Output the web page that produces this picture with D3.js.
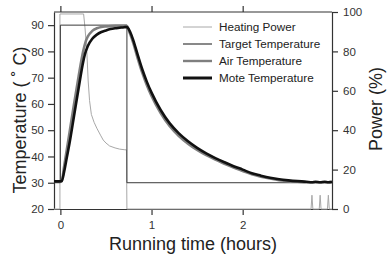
<!DOCTYPE html>
<html>
<head>
<meta charset="utf-8">
<script src="https://cdn.jsdelivr.net/npm/d3@7"></script>
<style>
  body { margin: 0; background: #fff; }
  svg { display: block; font-family: "Liberation Sans", Arial, sans-serif; }
</style>
</head>
<body>
<svg id="chart" width="390" height="261"></svg>
<script>
// values: [hours, value]
const targetTemp = [[-0.07, 30], [0, 30], [0, 90], [0.73, 90], [0.73, 30], [2.98, 30]];

const heatingPower = [[-0.07, 0], [-0.005, 0], [-0.005, 99], [0.255, 99], [0.27, 92], [0.29, 80],
  [0.305, 65], [0.32, 55], [0.34, 48], [0.37, 44], [0.4, 41], [0.44, 37.5], [0.47, 35],
  [0.5, 33.5], [0.54, 32], [0.6, 31], [0.65, 30.4], [0.7, 30.1], [0.725, 30], [0.73, 0],
  [2.75, 0], [2.76, 7], [2.77, 0], [2.84, 0], [2.85, 7], [2.86, 0], [2.93, 0], [2.94, 7],
  [2.95, 0], [2.98, 0]];

const airTemp = [[-0.07, 30.5], [0.015, 30.6], [0.04, 36], [0.07, 42.5], [0.1, 49], [0.15, 60],
  [0.2, 70.5], [0.25, 80], [0.28, 84], [0.3, 85.6], [0.35, 87.8], [0.4, 88.8], [0.45, 89.3],
  [0.5, 89.5], [0.6, 89.7], [0.73, 89.7], [0.75, 88], [0.78, 85.3], [0.8, 83.2], [0.85, 77.2],
  [0.9, 71.7], [0.95, 67], [1.0, 63], [1.1, 56.5], [1.2, 51.5], [1.3, 47.8], [1.4, 44.9],
  [1.5, 42.5], [1.6, 40.5], [1.7, 38.8], [1.8, 37.2], [1.9, 35.8], [2.0, 34.5], [2.1, 33.2],
  [2.2, 32.3], [2.3, 31.6], [2.4, 31.0], [2.5, 30.6], [2.6, 30.4], [2.7, 30.2], [2.98, 30.2]];

const moteTemp = [[-0.07, 30.5], [0.015, 30.6], [0.04, 34], [0.07, 39.5], [0.1, 45], [0.15, 55.5],
  [0.2, 66], [0.25, 76], [0.27, 79], [0.3, 82], [0.35, 84.8], [0.4, 86.4], [0.45, 87.4],
  [0.5, 88], [0.55, 88.5], [0.6, 88.8], [0.65, 89], [0.7, 89.2], [0.73, 89.3], [0.75, 88.5],
  [0.78, 86.2], [0.8, 84.2], [0.85, 78.5], [0.9, 73], [0.95, 68.3], [1.0, 64.3], [1.1, 57.7],
  [1.2, 52.6], [1.3, 48.8], [1.4, 45.8], [1.5, 43.3], [1.6, 41.2], [1.7, 39.4], [1.8, 37.8],
  [1.9, 36.3], [2.0, 35], [2.1, 33.6], [2.2, 32.7], [2.3, 31.9], [2.4, 31.3], [2.5, 30.9],
  [2.6, 30.6], [2.7, 30.4], [2.76, 30.2], [2.8, 30.4], [2.85, 30.2], [2.9, 30.4], [2.94, 30.2],
  [2.98, 30.4]];

const timeTicks = [0, 1, 2];
const tempTicks = [20, 30, 40, 50, 60, 70, 80, 90];
const powerTicks = [0, 20, 40, 60, 80, 100];
const legendLabels = ["Heating Power", "Target Temperature", "Air Temperature", "Mote Temperature"];

const svg = d3.select("#chart");
const plotLeft = 54, plotRight = 332, plotTop = 12, plotBottom = 209;

let x = d3.scaleLinear().domain([-0.07, 2.98]).range([plotLeft, plotRight]);
let yT = d3.scaleLinear().domain([20, 95]).range([plotBottom, plotTop]);
let yP = d3.scaleLinear().domain([0, 100]).range([plotBottom, plotTop]);

const axisColor = "#333";

// top border
svg.append("line")
  .attr("x1", plotLeft).attr("x2", plotRight).attr("y1", plotTop).attr("y2", plotTop)
  .attr("stroke", axisColor).attr("stroke-width", 1.2);

function styleAxis(g) {
  g.select(".domain").attr("stroke", axisColor).attr("stroke-width", 1.2);
  g.selectAll(".tick line").attr("stroke", axisColor).attr("stroke-width", 1.2);
  g.selectAll(".tick text").attr("fill", "#333").attr("font-size", "11.5px")
    .attr("font-family", "Liberation Sans, Arial, sans-serif");
}

svg.append("g").attr("transform", `translate(0,${plotBottom})`)
  .call(d3.axisBottom(x).tickValues(timeTicks).tickFormat(d3.format("d"))
    .tickSize(6).tickSizeOuter(0).tickPadding(6))
  .call(styleAxis);

svg.append("g").attr("transform", `translate(0,${plotTop})`)
  .call(d3.axisTop(x).tickValues(timeTicks).tickSize(6).tickSizeOuter(0).tickFormat(""))
  .call(styleAxis)
  .select(".domain").remove();

svg.append("g").attr("transform", `translate(${plotLeft},0)`)
  .call(d3.axisLeft(yT).tickValues(tempTicks).tickSize(6).tickSizeOuter(0).tickPadding(4))
  .call(styleAxis);

svg.append("g").attr("transform", `translate(${plotRight},0)`)
  .call(d3.axisRight(yP).tickValues(powerTicks).tickSize(6).tickSizeOuter(0).tickPadding(5))
  .call(styleAxis);

// series
const lineT = d3.line().x(d => x(d[0])).y(d => yT(d[1]));
const smoothT = d3.line().x(d => x(d[0])).y(d => yT(d[1])).curve(d3.curveMonotoneX);
const lineP = d3.line().x(d => x(d[0])).y(d => yP(d[1]));

svg.append("path").datum(heatingPower).attr("d", lineP)
  .attr("fill", "none").attr("stroke", "#a8a8a8").attr("stroke-width", 1);

svg.append("path").datum(targetTemp).attr("d", lineT)
  .attr("fill", "none").attr("stroke", "#3a3a3a").attr("stroke-width", 1);

svg.append("path").datum(airTemp).attr("d", smoothT)
  .attr("fill", "none").attr("stroke", "#7f7f7f").attr("stroke-width", 2.6);

svg.append("path").datum(moteTemp).attr("d", smoothT)
  .attr("fill", "none").attr("stroke", "#111").attr("stroke-width", 2.6);

// legend
const legendStyle = [
  { color: "#a8a8a8", width: 1 },
  { color: "#3a3a3a", width: 1.2 },
  { color: "#7f7f7f", width: 2.4 },
  { color: "#111", width: 3 }
];
let legend = svg.append("g");
legendLabels.forEach(function (label, i) {
  let ly = 27 + i * 17;
  legend.append("line")
    .attr("x1", 183).attr("x2", 212).attr("y1", ly).attr("y2", ly)
    .attr("stroke", legendStyle[i].color).attr("stroke-width", legendStyle[i].width);
  legend.append("text")
    .attr("x", 219).attr("y", ly + 4)
    .attr("font-size", "11.7px").attr("fill", "#222")
    .text(label);
});

// axis titles
svg.append("text")
  .attr("transform", "translate(26,120) rotate(-90)")
  .attr("text-anchor", "middle").attr("font-size", "18px").attr("fill", "#222")
  .text("Temperature ( ˚ C)");

svg.append("text")
  .attr("transform", "translate(382,109) rotate(-90)")
  .attr("text-anchor", "middle").attr("font-size", "18px").attr("fill", "#222")
  .text("Power (%)");

svg.append("text")
  .attr("x", 193).attr("y", 250)
  .attr("text-anchor", "middle").attr("font-size", "18px").attr("fill", "#222")
  .text("Running time (hours)");
</script>
</body>
</html>
